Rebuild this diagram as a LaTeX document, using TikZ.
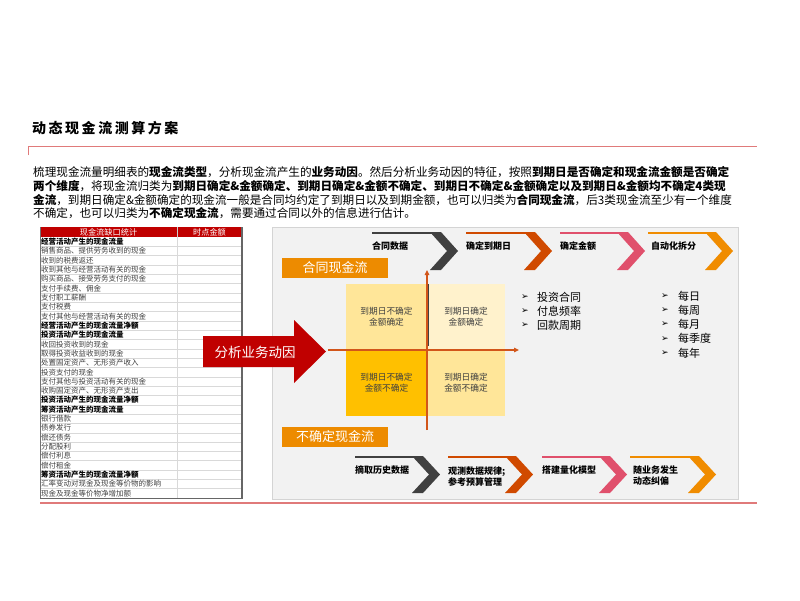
\documentclass[tikz,border=0pt]{standalone}
\usepackage{fontspec}
\setmainfont{Noto Sans CJK SC}
\newfontfamily\dejavu{DejaVu Sans}
\usetikzlibrary{arrows.meta}
\definecolor{hdrred}{HTML}{C00000}
\definecolor{lnred}{HTML}{E07A7A}
\definecolor{panelbg}{HTML}{F2F2F2}
\definecolor{panelln}{HTML}{D4D4D4}
\definecolor{cdark}{HTML}{404040}
\definecolor{credor}{HTML}{D04A00}
\definecolor{cpink}{HTML}{E0506C}
\definecolor{corange}{HTML}{F08C00}
\definecolor{lblor}{HTML}{ED8B00}
\definecolor{axisor}{HTML}{D2561A}
\definecolor{qa}{HTML}{FFE699}
\definecolor{qb}{HTML}{FFF2CC}
\definecolor{qc}{HTML}{FFC000}
\tikzset{
  rowtxt/.style={anchor=west,inner sep=0pt,font=\fontsize{7.5}{8}\selectfont,text=black!75},
  quadtxt/.style={align=center,inner sep=0pt,font=\fontsize{8.7}{11}\selectfont,text=black!75},
  chevtxt/.style={anchor=north west,align=left,inner sep=0pt,font=\fontsize{9}{11}\selectfont\bfseries},
  bultxt/.style={anchor=west,inner sep=0pt,font=\fontsize{11}{13}\selectfont},
  bulmark/.style={anchor=west,inner sep=0pt,font=\dejavu\fontsize{9}{10}\selectfont},
  partxt/.style={anchor=west,inner sep=0pt,font=\fontsize{11.6}{14}\selectfont},
  hdrtxt/.style={text=white,inner sep=0pt,font=\fontsize{8.2}{9}\selectfont},
  lblbox/.style={fill=lblor,text=white,minimum width=106pt,minimum height=20pt,inner sep=0pt,font=\fontsize{13}{15}\selectfont},
  axisline/.style={draw=axisor,line width=1.3pt,-{Triangle[length=5pt,width=4.5pt]}},
}
% #1 chevron x0, #2 top y, #3 colour, #4 line start x, #5 height
\newcommand\mychev[5]{%
  \draw[#3,line width=2pt] (#4,#2+1) -- (#1+6,#2+1);
  \fill[#3] (#1,#2) -- (#1+11,#2) -- (#1+28,#2+#5/2) -- (#1+11,#2+#5) -- (#1,#2+#5) -- (#1+17,#2+#5/2) -- cycle;
}
\begin{document}
\begin{tikzpicture}[x=1pt,y=-1pt]
\useasboundingbox (0,0) rectangle (800,600);
\fill[white] (0,0) rectangle (800,600);

% title
\node[anchor=west,inner sep=0pt,font=\fontsize{14}{16}\selectfont\bfseries\addfontfeatures{LetterSpace=18}] (title) at (32,128) {动态现金流测算方案};
\draw[lnred,line width=0.9pt] (28,155) -- (28,146) -- (757,146);

% paragraph
\node[partxt] (p1) at (33,172) {梳理现金流量明细表的\textbf{现金流类型}，分析现金流产生的\textbf{业务动因}。然后分析业务动因的特征，按照\textbf{到期日是否确定和现金流金额是否确定}};
\node[partxt] (p2) at (33,186) {\textbf{两个维度}，将现金流归类为\textbf{到期日确定\&金额确定、到期日确定\&金额不确定、到期日不确定\&金额确定以及到期日\&金额均不确定4类现}};
\node[partxt] (p3) at (33,200) {\textbf{金流}，到期日确定\&金额确定的现金流一般是合同均约定了到期日以及到期金额，也可以归类为\textbf{合同现金流}，后3类现金流至少有一个维度};
\node[partxt] (p4) at (33,213) {不确定，也可以归类为\textbf{不确定现金流}，需要通过合同以外的信息进行估计。};

% table
\fill[hdrred] (40,227) rectangle (242,237);
\draw[white!80!black,line width=0.5pt] (177,227) -- (177,237);
\node[hdrtxt] (h1) at (108.5,232) {现金流缺口统计};
\node[hdrtxt] (h2) at (209.5,232) {时点金额};
\foreach \i in {1,...,27} {
  \draw[black!15,line width=0.4pt] (40,{237+9.32*\i}) -- (242,{237+9.32*\i});
}
\draw[black!15,line width=0.5pt] (177,237) -- (177,498);
\foreach \t [count=\i] in {
  {\bfseries\color{black} 经营活动产生的现金流量},
  {销售商品、提供劳务收到的现金},
  {收到的税费返还},
  {收到其他与经营活动有关的现金},
  {购买商品、接受劳务支付的现金},
  {支付手续费、佣金},
  {支付职工薪酬},
  {支付税费},
  {支付其他与经营活动有关的现金},
  {\bfseries\color{black} 经营活动产生的现金流量净额},
  {\bfseries\color{black} 投资活动产生的现金流量},
  {收回投资收到的现金},
  {取得投资收益收到的现金},
  {处置固定资产、无形资产收入},
  {投资支付的现金},
  {支付其他与投资活动有关的现金},
  {收购固定资产、无形资产支出},
  {\bfseries\color{black} 投资活动产生的现金流量净额},
  {\bfseries\color{black} 筹资活动产生的现金流量},
  {银行借款},
  {债券发行},
  {偿还债务},
  {分配股利},
  {偿付利息},
  {偿付租金},
  {\bfseries\color{black} 筹资活动产生的现金流量净额},
  {汇率变动对现金及现金等价物的影响},
  {现金及现金等价物净增加额}} {
  \node[rowtxt] (r\i) at (41,{237+9.32*(\i-0.5)}) {\t};
}
\draw[black!55,line width=0.7pt] (40,227) -- (40,498);
\draw[black!60,line width=1.2pt] (242,227) -- (242,498.5) -- (40,498.5);

% bottom red line
\draw[lnred,line width=1.8pt] (40,503) -- (757,503);

% right panel
\draw[panelln,fill=panelbg,line width=0.6pt] (272,227) rectangle (738,499);

% top chevrons
\mychev{430}{232}{cdark}{372}{38}
\mychev{524}{232}{credor}{466}{38}
\mychev{617}{232}{cpink}{560}{38}
\mychev{705}{232}{corange}{648}{38}
\node[chevtxt] (t1) at (372,241.5) {合同数据};
\node[chevtxt] (t2) at (466,241.5) {确定到期日};
\node[chevtxt] (t3) at (560,241.5) {确定金额};
\node[chevtxt] (t4) at (651,241.5) {自动化拆分};

% bottom chevrons
\mychev{412}{456}{cdark}{355}{37}
\mychev{505}{456}{credor}{448}{37}
\mychev{599}{456}{cpink}{542}{37}
\mychev{688}{456}{corange}{630}{37}
\node[chevtxt] (b1) at (355,465.5) {摘取历史数据};
\node[chevtxt] (b2) at (448,466.5) {观测数据规律;\\参考预算管理};
\node[chevtxt] (b3) at (542,465.5) {搭建量化模型};
\node[chevtxt] (b4) at (633,465.5) {随业务发生\\动态纠偏};

% labels
\node[lblbox] (contract) at (335,268) {合同现金流};
\node[lblbox] (uncertain) at (335,437) {不确定现金流};

% quadrant
\fill[qa] (346,284) rectangle (427,349);
\fill[qb] (427,284) rectangle (505,349);
\fill[qc] (346,349) rectangle (427,416);
\fill[qa] (427,349) rectangle (505,416);
\draw[cdark,line width=0.8pt] (428.8,284) -- (428.8,346);
\node[quadtxt] (q1) at (386.5,317) {到期日不确定\\金额确定};
\node[quadtxt] (q2) at (466,317) {到期日确定\\金额确定};
\node[quadtxt] (q3) at (386.5,382.5) {到期日不确定\\金额不确定};
\node[quadtxt] (q4) at (466,382.5) {到期日确定\\金额不确定};

% axes
\coordinate (hs) at (328,350);
\coordinate (he) at (519,350);
\coordinate (vs) at (427,430);
\coordinate (ve) at (427,270);
\draw[axisline] (hs) -- (he);
\draw[axisline] (vs) -- (ve);

% big red arrow
\fill[hdrred] (203,336) -- (294,336) -- (294,320) -- (326,351.5) -- (294,383) -- (294,367) -- (203,367) -- cycle;
\node[text=white,inner sep=0pt,font=\fontsize{13.5}{15}\selectfont] (cause) at (255,352) {分析业务动因};

% bullet lists
\foreach \t [count=\i] in {投资合同,付息频率,回款周期} {
  \node[bulmark] (ma\i) at (521,{297+14*(\i-1)}) {➢};
  \node[bultxt] (la\i) at (537,{297+14*(\i-1)}) {\t};
}
\foreach \t [count=\i] in {每日,每周,每月,每季度,每年} {
  \node[bulmark] (mb\i) at (661,{296+14.2*(\i-1)}) {➢};
  \node[bultxt] (lb\i) at (678,{296+14.2*(\i-1)}) {\t};
}
\end{tikzpicture}
\end{document}
